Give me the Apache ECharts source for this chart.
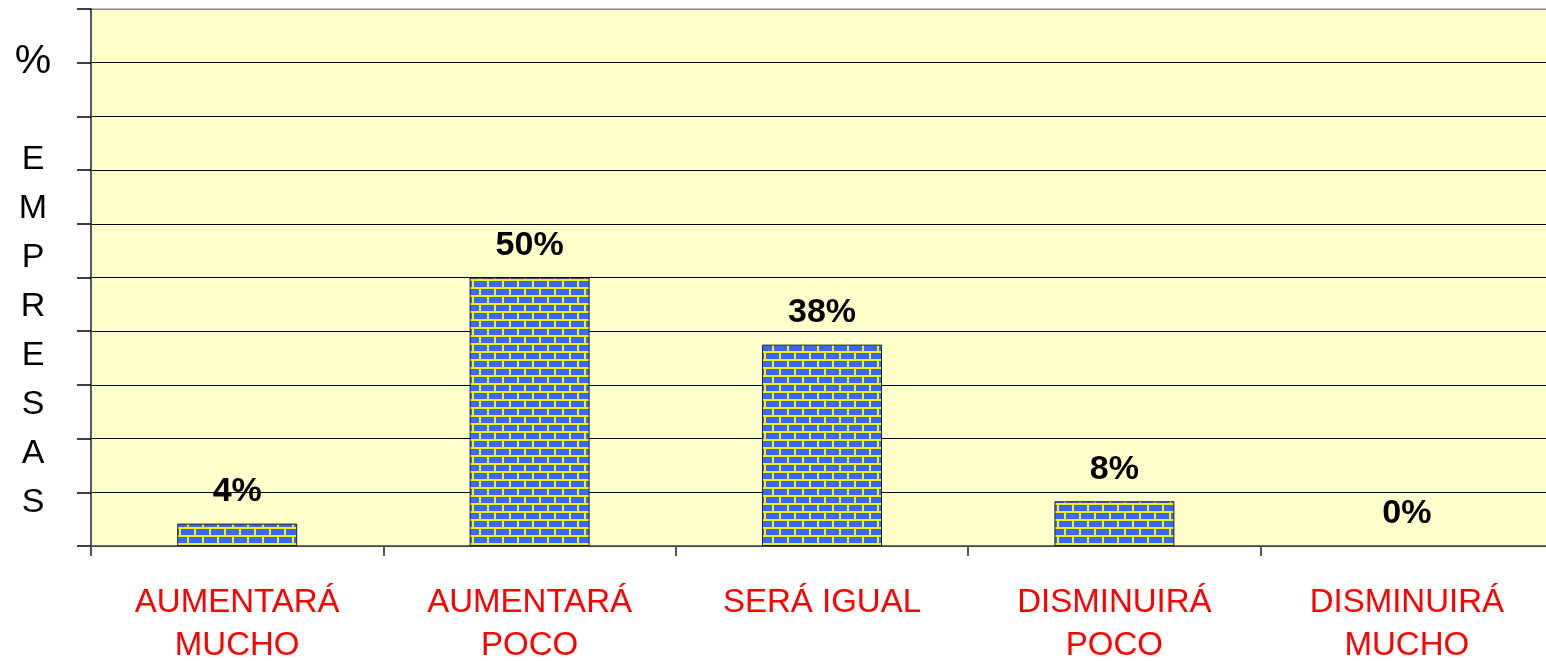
<!doctype html>
<html lang="es">
<head>
	<meta charset="UTF-8">
	<title>Empresas</title>
	<script src="https://cdn.jsdelivr.net/npm/echarts@6/dist/echarts.min.js"></script>
	<style>
		html, body { margin: 0; padding: 0; width: 100%; height: 100%; background: #fff; }
		#main { width: 1546px; height: 661px; }
	</style>
</head>
<body>
	<div id="main"></div>
	<script type="text/javascript">
		var categorias = ['AUMENTARÁ\nMUCHO', 'AUMENTARÁ\nPOCO', 'SERÁ IGUAL', 'DISMINUIRÁ\nPOCO', 'DISMINUIRÁ\nMUCHO'];
		var porcentajes = [4.17, 50, 37.5, 8.33, 0];
		var ejeY = { min: 0, max: 100, intervalo: 10 };
		var tituloY = '{p|%}\n\nE\nM\nP\nR\nE\nS\nA\nS';

		var fuente = '"Liberation Sans", Arial, sans-serif';

		// ladrillos azules con juntas amarillas
		function ladrillos() {
			var c = document.createElement('canvas');
			c.width = 30; c.height = 16;
			var ctx = c.getContext('2d');
			ctx.fillStyle = '#f2f200';
			ctx.fillRect(0, 0, 30, 16);
			ctx.fillStyle = '#3a68f6';
			[0, 15].forEach(function (x) { ctx.fillRect(x + 1, 1, 13, 6); });
			[-7, 8, 23].forEach(function (x) { ctx.fillRect(x + 1, 9, 13, 6); });
			return c;
		}

		var myChart = echarts.init(document.getElementById('main'));

		var lineasY = [];
		for (var i = 0; i < 10; i++) lineasY.push('#000');
		lineasY.push('#808080');

		var option = {
			animation: false,
			grid: {
				left: 91, top: 9, height: 537, width: 1462,
				outerBoundsMode: 'none',
				containLabel: false,
				show: true,
				backgroundColor: '#ffffcc',
				borderColor: '#808080',
				borderWidth: 1
			},
			xAxis: {
				type: 'category',
				data: categorias,
				axisLine: { lineStyle: { color: '#555', width: 1.5 } },
				axisTick: { show: true, length: 10, lineStyle: { color: '#555', width: 2 } },
				axisLabel: {
					interval: 0,
					margin: 35,
					color: '#ff0000',
					fontFamily: fuente,
					fontSize: 33,
					lineHeight: 43
				}
			},
			yAxis: {
				type: 'value',
				min: ejeY.min,
				max: ejeY.max,
				interval: ejeY.intervalo,
				name: tituloY,
				nameLocation: 'middle',
				nameRotate: 0,
				nameGap: 58,
				nameTextStyle: {
					color: '#000',
					fontFamily: fuente,
					fontSize: 34,
					lineHeight: 49,
					align: 'center',
					padding: [9, 0, 0, 0],
					rich: {
						p: { fontFamily: fuente, fontSize: 41, lineHeight: 49, color: '#000' }
					}
				},
				axisLine: { show: true, lineStyle: { color: '#555', width: 2 } },
				axisTick: { show: true, length: 14, lineStyle: { color: '#000', width: 1.5 } },
				axisLabel: { show: false },
				splitLine: { show: true, lineStyle: { color: lineasY, width: 1.2 } }
			},
			series: [{
				type: 'bar',
				data: porcentajes.map(function (v) {
					return v > 0 ? v : { value: v, itemStyle: { borderWidth: 0 } };
				}),
				barWidth: 120,
				itemStyle: {
					color: { image: ladrillos(), repeat: 'repeat' },
					borderColor: '#222',
					borderWidth: 1
				},
				label: {
					show: true,
					position: 'top',
					distance: 15,
					color: '#000',
					fontFamily: fuente,
					fontWeight: 'bold',
					fontSize: 34,
					formatter: function (p) { return Math.round(p.value) + '%'; }
				}
			}]
		};
		myChart.setOption(option);
		window.onresize = () => myChart.resize();
	</script>
</body>
</html>
